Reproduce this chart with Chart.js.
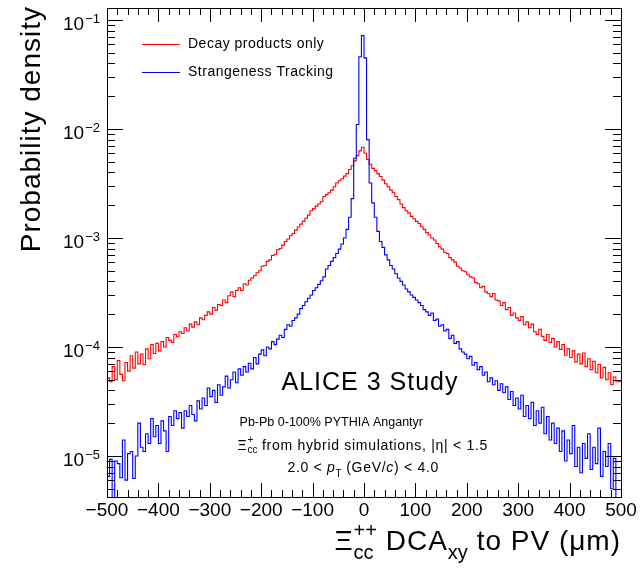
<!DOCTYPE html>
<html><head><meta charset="utf-8">
<script src="https://cdn.jsdelivr.net/npm/chart.js@4"></script>
<style>html,body{margin:0;padding:0;background:#fff}#wrap{width:643px;height:570px}</style>
</head><body><div id="wrap"><canvas id="c" width="643" height="570"></canvas></div>
<script>
// ---- data ----
const binLow = -500, binWidth = 5;   // 200 bins of 5 um, from -500 to 500 um
const decayOnly = [
4.5e-5,5.2e-5,4.8e-5,6.6e-5,5.0e-5,7.5e-5,5.6e-5,4.9e-5,7.2e-5,6.0e-5,8.3e-5,6.4e-5,9.0e-5,7.0e-5,8.6e-5,6.9e-5,9.6e-5,7.8e-5,1.05e-4,8.7e-5,
1.08e-4,9.2e-5,1.12e-4,1.0e-4,1.22e-4,1.15e-4,1.1e-4,1.3e-4,1.24e-4,1.38e-4,1.33e-4,1.5e-4,1.4e-4,1.62e-4,1.52e-4,1.7e-4,1.6e-4,1.85e-4,1.78e-4,1.95e-4,
2.1e-4,2.0e-4,2.3e-4,2.18e-4,2.45e-4,2.4e-4,2.7e-4,2.55e-4,2.95e-4,3.2e-4,2.9e-4,3.3e-4,3.5e-4,3.3e-4,3.8e-4,3.7e-4,4.1e-4,4.3e-4,4.5e-4,4.8e-4,
5.0e-4,5.5e-4,5.6e-4,6.1e-4,6.3e-4,6.9e-4,7.1e-4,7.8e-4,8.0e-4,8.6e-4,9.3e-4,9.8e-4,1.05e-3,1.1e-3,1.18e-3,1.26e-3,1.34e-3,1.42e-3,1.52e-3,1.62e-3,
1.78e-3,1.86e-3,1.96e-3,2.05e-3,2.15e-3,2.4e-3,2.5e-3,2.6e-3,2.75e-3,2.95e-3,3.2e-3,3.35e-3,3.5e-3,3.7e-3,3.9e-3,4.25e-3,4.6e-3,5.1e-3,5.7e-3,6.3e-3,
6.8e-3,6.0e-3,5.25e-3,4.75e-3,4.35e-3,4.15e-3,3.9e-3,3.67e-3,3.4e-3,3.15e-3,2.95e-3,2.75e-3,2.6e-3,2.4e-3,2.25e-3,2.05e-3,1.9e-3,1.78e-3,1.7e-3,1.58e-3,
1.5e-3,1.42e-3,1.36e-3,1.27e-3,1.2e-3,1.12e-3,1.07e-3,1.0e-3,9.6e-4,8.9e-4,8.3e-4,7.9e-4,7.4e-4,7.2e-4,6.6e-4,6.3e-4,6.0e-4,5.5e-4,5.3e-4,5.0e-4,
4.9e-4,4.6e-4,4.4e-4,4.3e-4,3.9e-4,3.8e-4,3.5e-4,3.6e-4,3.2e-4,3.1e-4,2.9e-4,3.1e-4,2.7e-4,2.65e-4,2.4e-4,2.55e-4,2.2e-4,2.3e-4,1.95e-4,2.05e-4,
1.85e-4,1.75e-4,1.9e-4,1.6e-4,1.7e-4,1.5e-4,1.62e-4,1.38e-4,1.3e-4,1.45e-4,1.25e-4,1.15e-4,1.3e-4,1.1e-4,1.2e-4,1.0e-4,1.12e-4,9.5e-5,1.05e-4,8.4e-5,
9.6e-5,8.0e-5,9.2e-5,7.3e-5,8.6e-5,7.0e-5,8.8e-5,6.6e-5,7.8e-5,6.2e-5,7.4e-5,5.8e-5,6.9e-5,5.2e-5,6.5e-5,5.0e-5,5.8e-5,4.5e-5,5.3e-5,4.8e-5
];
const strangenessTracking = [
1.1e-5,6.5e-6,9.3e-6,3.0e-6,9.0e-6,8.5e-6,6.3e-6,1.4e-5,6.0e-6,1.05e-5,1.1e-5,6.2e-6,1.0e-5,2.0e-5,1.2e-5,1.1e-5,1.6e-5,1.3e-5,2.2e-5,1.5e-5,
1.9e-5,1.3e-5,2.1e-5,1.7e-5,1.1e-5,2.3e-5,1.9e-5,2.6e-5,2.2e-5,2.5e-5,1.8e-5,2.6e-5,2.3e-5,2.9e-5,2.4e-5,2.1e-5,3.2e-5,2.7e-5,3.4e-5,2.9e-5,
4.2e-5,3.5e-5,4.0e-5,3.1e-5,4.5e-5,3.6e-5,4.3e-5,5.4e-5,4.2e-5,5.0e-5,5.9e-5,4.7e-5,6.3e-5,5.5e-5,6.6e-5,5.9e-5,7.1e-5,6.3e-5,8.0e-5,7.0e-5,
8.6e-5,9.4e-5,8.3e-5,1.0e-4,9.6e-5,1.12e-4,1.05e-4,1.18e-4,1.28e-4,1.22e-4,1.45e-4,1.6e-4,1.55e-4,1.75e-4,1.85e-4,2.0e-4,2.25e-4,2.4e-4,2.6e-4,2.8e-4,
3.0e-4,3.3e-4,3.5e-4,3.75e-4,4.05e-4,4.4e-4,5.2e-4,5.6e-4,6.1e-4,6.6e-4,7.2e-4,7.9e-4,8.8e-4,1.0e-3,1.2e-3,1.55e-3,2.3e-3,5.4e-3,1.1e-2,4.6e-2,
7.2e-2,4.5e-2,8.0e-3,3.2e-3,2.1e-3,1.55e-3,1.15e-3,9.3e-4,8.2e-4,7.0e-4,6.3e-4,5.6e-4,5.2e-4,4.7e-4,4.3e-4,4.0e-4,3.7e-4,3.4e-4,3.2e-4,3.0e-4,
2.85e-4,2.7e-4,2.55e-4,2.4e-4,2.2e-4,2.1e-4,1.95e-4,2.05e-4,1.75e-4,1.8e-4,1.55e-4,1.6e-4,1.4e-4,1.45e-4,1.2e-4,1.28e-4,1.08e-4,1.12e-4,9.6e-5,9.0e-5,
8.6e-5,7.8e-5,8.2e-5,6.8e-5,7.2e-5,6.2e-5,6.6e-5,5.5e-5,5.9e-5,4.8e-5,5.2e-5,4.5e-5,4.9e-5,4.0e-5,4.6e-5,3.8e-5,4.3e-5,3.3e-5,3.9e-5,2.9e-5,
3.4e-5,2.7e-5,3.6e-5,2.3e-5,2.9e-5,2.2e-5,3.1e-5,1.9e-5,2.6e-5,2.0e-5,2.8e-5,1.6e-5,2.3e-5,1.4e-5,2.0e-5,1.3e-5,1.8e-5,1.1e-5,1.7e-5,9.0e-6,
1.4e-5,1.05e-5,1.9e-5,8.0e-6,1.2e-5,7.0e-6,1.3e-5,9.5e-6,1.6e-5,7.5e-6,1.2e-5,8.5e-6,1.8e-5,6.5e-6,1.1e-5,8.0e-6,1.3e-5,5.0e-6,9.5e-6,3.0e-6
];
const seriesNames = ['Decay products only', 'Strangeness Tracking'];
const xMajorTicks = [-500,-400,-300,-200,-100,0,100,200,300,400,500];
const xTickLabels = ['\u2212500','\u2212400','\u2212300','\u2212200','\u2212100','0','100','200','300','400','500'];
const xMinorStep = 20;
const yDecadeExps = [-5,-4,-3,-2,-1];
const yTickExpLabels = ['\u22125','\u22124','\u22123','\u22122','\u22121'];
const xRange = [-500, 500];
const yRange = [4.2e-6, 0.129];

// ---- helpers ----
const FONT = '"Liberation Sans", Arial, Helvetica, sans-serif';
function toPoints(vals){
  const pts = vals.map((v,i)=>({x: binLow + i*binWidth, y: v}));
  pts.push({x: binLow + vals.length*binWidth, y: vals[vals.length-1]});
  return pts;
}
function setFont(ctx, s){ ctx.font = (s.it ? 'italic ' : '') + s.f + 'px ' + FONT; if ('letterSpacing' in ctx) ctx.letterSpacing = (s.ls||0) + 'px'; }
function meas(ctx, s){ setFont(ctx, s); return ctx.measureText(s.t).width; }
function rich(ctx, segs, x, y, align){
  const ws = segs.map(s => s.stack ? Math.max(meas(ctx,s.stack[0]), meas(ctx,s.stack[1])) : meas(ctx,s));
  let w = 0; segs.forEach((s,i)=>{ w += ws[i] + (s.gap||0); });
  let cx = align==='right' ? x - w : align==='center' ? x - w/2 : x;
  ctx.textAlign = 'left'; ctx.textBaseline = 'alphabetic';
  segs.forEach((s,i)=>{
    const parts = s.stack ? s.stack : [s];
    parts.forEach(p=>{ setFont(ctx,p); ctx.fillText(p.t, cx, y + (p.dy||0)); });
    cx += ws[i] + (s.gap||0);
  });
}

const decor = {
  id: 'rootDecor',
  afterDatasetsDraw(chart){
    const {ctx, chartArea:a, scales:{x, y}} = chart;
    ctx.save();
    ctx.strokeStyle = '#000'; ctx.fillStyle = '#000'; ctx.lineWidth = 1;
    // frame
    ctx.strokeRect(Math.round(a.left)+0.5, Math.round(a.top)+0.5, Math.round(a.right-a.left), Math.round(a.bottom-a.top));
    ctx.beginPath();
    // x ticks (top & bottom, inward)
    for (let v = xRange[0]; v <= xRange[1]; v += xMinorStep){
      const px = Math.round(x.getPixelForValue(v)) + 0.5;
      const len = (v % 100 === 0) ? 14 : 7;
      ctx.moveTo(px, a.bottom); ctx.lineTo(px, a.bottom - len);
      ctx.moveTo(px, a.top); ctx.lineTo(px, a.top + len);
    }
    // y ticks (left & right, inward)
    for (let d = -6; d <= 0; d++){
      for (let k = 1; k <= 9; k++){
        const v = k * Math.pow(10, d);
        if (v < yRange[0] || v > yRange[1]) continue;
        const py = Math.round(y.getPixelForValue(v)) + 0.5;
        const len = k === 1 ? 16 : 8;
        ctx.moveTo(a.left, py); ctx.lineTo(a.left + len, py);
        ctx.moveTo(a.right, py); ctx.lineTo(a.right - len, py);
      }
    }
    ctx.stroke();
    // x tick labels
    ctx.textAlign = 'center'; ctx.textBaseline = 'alphabetic';
    setFont(ctx, {f:19, ls:0});
    xMajorTicks.forEach((v,i)=>{ ctx.fillText(xTickLabels[i], x.getPixelForValue(v), 516); });
    // y tick labels 10^n
    yDecadeExps.forEach((e,i)=>{
      const py = y.getPixelForValue(Math.pow(10, e));
      setFont(ctx, {f:13}); ctx.textAlign = 'right';
      const ew = ctx.measureText(yTickExpLabels[i]).width;
      ctx.fillText(yTickExpLabels[i], 100, py + 3);
      setFont(ctx, {f:19});
      ctx.fillText('10', 100 - ew - 1, py + 10);
    });
    // y title
    ctx.save();
    ctx.translate(40, 6); ctx.rotate(-Math.PI/2);
    setFont(ctx, {f:28, ls:1}); ctx.textAlign = 'right';
    ctx.fillText('Probability density', 0, 0);
    ctx.restore();
    // x title
    rich(ctx, [
      {t:'\u039E', f:28, ls:1},
      {stack:[{t:'++', f:20, dy:-13}, {t:'cc', f:20, dy:9}]},
      {t:' DCA', f:28, ls:1},
      {t:'xy', f:20, dy:9},
      {t:' to PV (\u03BCm)', f:28, ls:1}
    ], 621, 550, 'right');
    // legend
    const cols = ['#ff0000', '#0000ff'];
    [44, 72].forEach((ly,i)=>{
      ctx.strokeStyle = cols[i]; ctx.lineWidth = 1;
      ctx.beginPath(); ctx.moveTo(142, ly+0.5); ctx.lineTo(180, ly+0.5); ctx.stroke();
      setFont(ctx, {f:14, ls:0.5}); ctx.textAlign = 'left'; ctx.textBaseline = 'middle';
      ctx.fillText(seriesNames[i], 188, ly+0.5);
    });
    ctx.textBaseline = 'alphabetic';
    // annotations
    rich(ctx, [{t:'ALICE 3 Study', f:25, ls:1}], 370, 390, 'center');
    rich(ctx, [{t:'Pb-Pb 0-100% PYTHIA Angantyr', f:12.5, ls:0}], 423, 426, 'right');
    rich(ctx, [
      {t:'\u039E', f:14, ls:0.7},
      {stack:[{t:'+', f:10, dy:-7}, {t:'cc', f:10, dy:3}]},
      {t:' from hybrid simulations, |\u03B7| < 1.5', f:14, ls:0.7}
    ], 488, 450, 'right');
    rich(ctx, [
      {t:'2.0 < ', f:14, ls:0.7},
      {t:'p', f:14, it:true, ls:0.7},
      {t:'T', f:10, dy:5},
      {t:' (GeV/', f:14, ls:0.7},
      {t:'c', f:14, it:true, ls:0.7},
      {t:') < 4.0', f:14, ls:0.7}
    ], 439, 472, 'right');
    ctx.restore();
  }
};

new Chart(document.getElementById('c'), {
  type: 'line',
  data: {
    datasets: [
      {label: seriesNames[0], data: toPoints(decayOnly), borderColor: '#ff0000', borderWidth: 1.1, pointRadius: 0, stepped: 'after', fill: false, order: 2},
      {label: seriesNames[1], data: toPoints(strangenessTracking), borderColor: '#0000ff', borderWidth: 1.1, pointRadius: 0, stepped: 'after', fill: false, order: 1}
    ]
  },
  options: {
    responsive: false, animation: false, devicePixelRatio: 1,
    layout: {padding: {left: 107, right: 22, top: 8, bottom: 73}},
    scales: {
      x: {type: 'linear', min: xRange[0], max: xRange[1], display: false},
      y: {type: 'logarithmic', min: yRange[0], max: yRange[1], display: false}
    },
    plugins: {legend: {display: false}, tooltip: {enabled: false}}
  },
  plugins: [decor]
});
</script>
</body></html>
